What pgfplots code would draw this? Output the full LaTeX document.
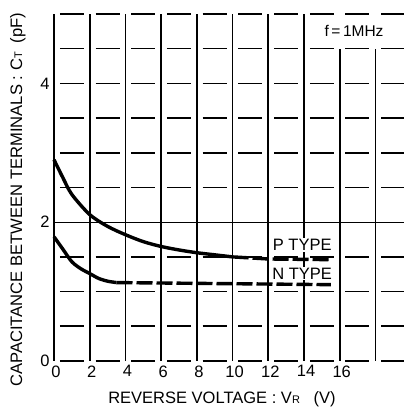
\documentclass[border=0pt]{standalone}
\usepackage{pgfplots}
\pgfplotsset{compat=1.18}
\usepackage{fontspec}
\setmainfont{Liberation Sans}
\begin{document}
\begin{tikzpicture}
\path[use as bounding box] (-54pt,-50pt) rectangle (350pt,361pt);
\begin{axis}[
 at={(0pt,0pt)}, anchor=origin,
 scale only axis, width=350pt, height=347pt,
 xmin=0, xmax=19.6, ymin=0, ymax=5,
 axis line style={draw=none},
 xtick={0,2,...,16}, ytick={0,2,4},
 major tick length=0pt,
 /pgf/number format/assume math mode=true,
 ticklabel style={font=\fontsize{16.5}{16.5}\selectfont},
 xticklabel style={yshift=-1pt, xshift=2pt},
 yticklabel style={xshift=-1pt},
 xlabel={REVERSE VOLTAGE : V{\fontsize{11}{11}\selectfont R}\ \ \ (V)},
 xlabel style={font=\fontsize{16.5}{17}\selectfont, at={(axis description cs:0.48,-0.11)}, anchor=center},
 ylabel={CAPACITANCE BETWEEN TERMINALS : C{\fontsize{11}{11}\selectfont T}\ \ (pF)},
 ylabel style={font=\fontsize{16.6}{17}\selectfont, at={(axis description cs:-0.103,0.465)}, anchor=center},
 clip=false,
]
% horizontal dashed grid
\pgfplotsinvokeforeach{0,0.5,1,1.5,2.5,3,3.5,4,4.5,5}{
 \draw[black, line width=1.6pt, dash pattern=on 24pt off 11.7pt, dash phase=29.85pt] (axis cs:0,#1) -- (axis cs:19.6,#1);
}
\draw[black, line width=1pt] (axis cs:0,2) -- (axis cs:19.6,2);
% vertical grid
\pgfplotsinvokeforeach{0,2,4,6,8,10,12,14}{
 \draw[black, line width=1.8pt] (axis cs:#1,0) -- (axis cs:#1,5);
}
\pgfplotsinvokeforeach{16,18}{
 \draw[black, line width=1.8pt] (axis cs:#1,0) -- (axis cs:#1,4.5);
}
% P type
\addplot[black, line width=3.4pt, smooth] coordinates {
(0,2.90) (0.5,2.64) (1,2.40) (2,2.11) (3,1.94) (4,1.82) (5,1.72) (6,1.65) (7,1.60) (8,1.56) (9,1.53) (10,1.50)};
\addplot[black, line width=3.4pt, dash pattern=on 16pt off 4pt] coordinates {
(10,1.50) (12,1.47) (15.5,1.46)};
% N type
\addplot[black, line width=3.4pt, smooth] coordinates {
(0,1.79) (0.5,1.61) (1,1.43) (1.5,1.33) (2,1.26) (2.5,1.19) (3,1.15) (3.5,1.13)};
\addplot[black, line width=3.4pt, dash pattern=on 16pt off 4pt] coordinates {
(3.5,1.13) (15.5,1.10)};
\node[font=\fontsize{16.5}{17}\selectfont, fill=white, inner sep=1pt] at (axis cs:13.9,1.67) {P TYPE};
\node[font=\fontsize{16.5}{17}\selectfont, fill=white, inner sep=1pt] at (axis cs:13.9,1.26) {N TYPE};
\node[font=\fontsize{15.5}{16}\selectfont, fill=white, inner sep=2pt] at (axis cs:16.8,4.75) {f\,=\,1MHz};
\end{axis}
\end{tikzpicture}
\end{document}
